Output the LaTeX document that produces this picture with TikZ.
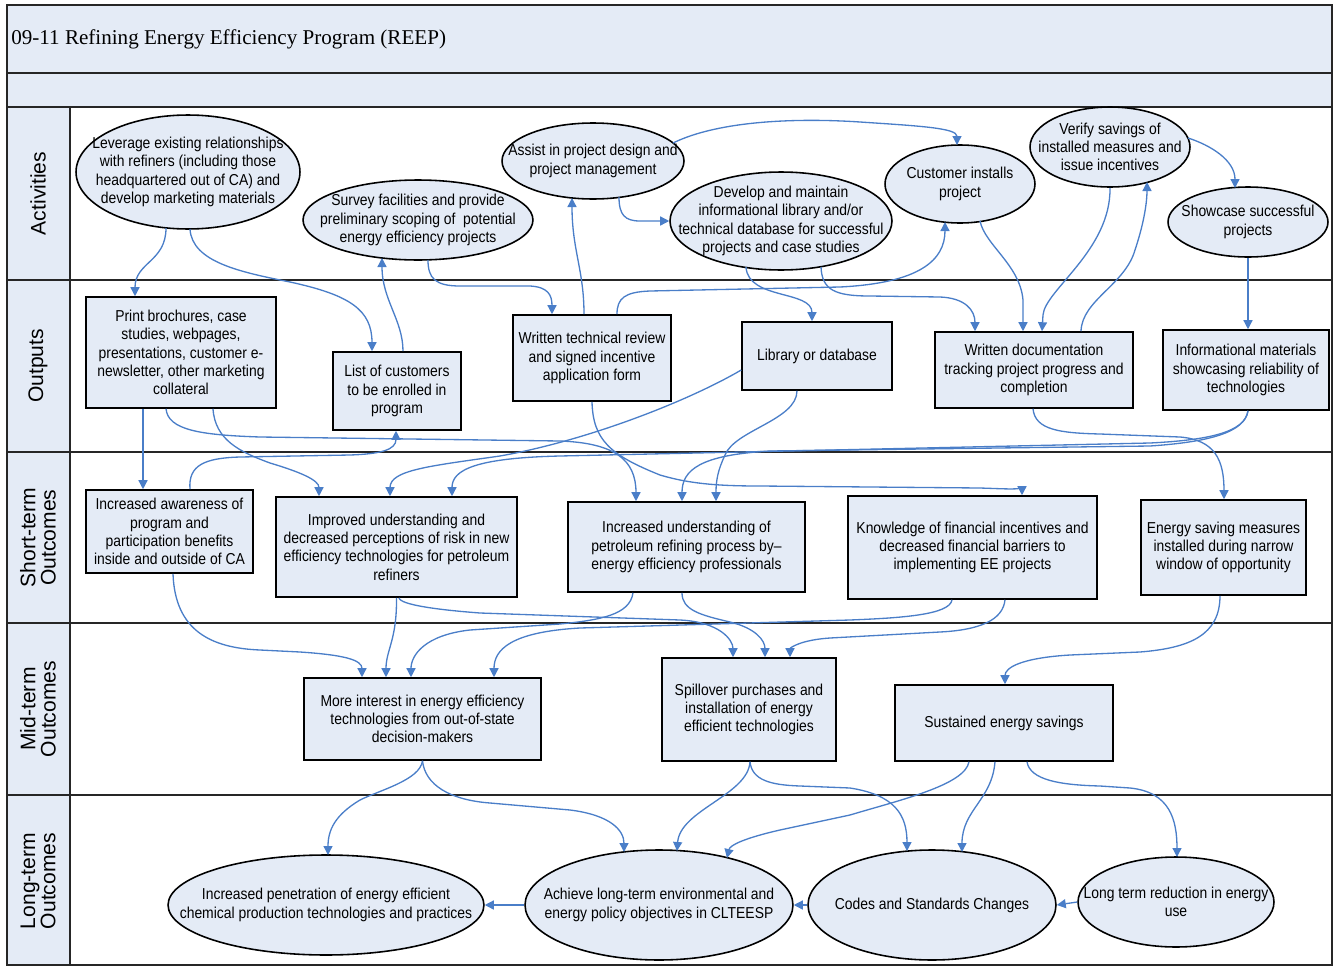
\documentclass[tikz,border=0pt]{standalone}
\usepackage{fontspec}
\setmainfont{Liberation Sans}[FakeStretch=0.88]
\newfontfamily\lanefont{Liberation Sans}
\newfontfamily\titlefont{Liberation Serif}
\usetikzlibrary{shapes.geometric,arrows.meta,calc}

\definecolor{paleblue}{HTML}{E4EBF6}
\definecolor{linkblue}{HTML}{4A7EC8}
\newcommand\nodefs{\fontsize{9}{10.4}\selectfont}
\newcommand\lanefs{\lanefont\fontsize{12}{11.5}\selectfont}

\tikzset{
  box/.style={rectangle, draw=black, line width=0.9pt, fill=paleblue, align=center, inner sep=0pt, font=\nodefs},
  oval/.style={ellipse, draw=black, line width=0.9pt, fill=paleblue, inner sep=0pt},
  ovaltext/.style={align=center, inner sep=0pt, font=\nodefs},
  lanelabel/.style={rotate=90, align=center, inner sep=0pt, font=\lanefs},
  link/.style={draw=linkblue, line width=0.75pt, -{Triangle[length=1.8mm,width=1.8mm]}},
  rule/.style={draw=black!85, line width=1pt},
}

\begin{document}
\begin{tikzpicture}[x=0.02cm, y=-0.02cm]
\useasboundingbox (0,0) rectangle (1333,967);

% table frame, title rows and lane headers
\fill[paleblue] (7,5) rectangle (1332,107);
\fill[paleblue] (7,107) rectangle (70,965);
\draw[rule] (7,5) rectangle (1332,965);
\foreach \yy in {73,107,280,452,623,795} \draw[rule] (7,\yy) -- (1332,\yy);
\draw[rule] (70,107) -- (70,965);
\node[anchor=west, inner sep=0pt, font=\titlefont\fontsize{12}{14}\selectfont] (title) at (11,39) {09-11 Refining Energy Efficiency Program (REEP)};

\node[lanelabel] (laneA) at (38,193.5) {Activities};
\node[lanelabel] (laneO) at (38,366) {Outputs};
\node[lanelabel] (laneS) at (38,537.5) {Short-term\\Outcomes};
\node[lanelabel] (laneM) at (38,709) {Mid-term\\Outcomes};
\node[lanelabel] (laneL) at (38,881) {Long-term\\Outcomes};

% activities
\node[oval, minimum width=4.48cm, minimum height=2.28cm] (A1) at (188,172) {};
\node[ovaltext] (A1t) at (A1.center) {Leverage existing relationships\\with refiners (including those\\headquartered out of CA) and\\develop marketing materials};
\node[oval, minimum width=4.60cm, minimum height=1.60cm] (A2) at (418,220) {};
\node[ovaltext] (A2t) at (A2.center) {Survey facilities and provide\\preliminary scoping of \ potential\\energy efficiency projects};
\node[oval, minimum width=3.64cm, minimum height=1.52cm] (A3) at (593,161) {};
\node[ovaltext] (A3t) at (A3.center) {Assist in project design and\\project management};
\node[oval, minimum width=4.44cm, minimum height=1.96cm] (A4) at (781,221) {};
\node[ovaltext] (A4t) at (A4.center) {Develop and maintain\\informational library and/or\\technical database for successful\\projects and case studies};
\node[oval, minimum width=3.00cm, minimum height=1.56cm] (A5) at (960,184) {};
\node[ovaltext] (A5t) at (A5.center) {Customer installs\\project};
\node[oval, minimum width=3.20cm, minimum height=1.60cm] (A6) at (1110,147) {};
\node[ovaltext] (A6t) at (A6.center) {Verify savings of\\installed measures and\\issue incentives};
\node[oval, minimum width=3.20cm, minimum height=1.40cm] (A7) at (1248,222) {};
\node[ovaltext] (A7t) at (A7.center) {Showcase successful\\projects};

% outputs
\node[box, minimum width=3.80cm, minimum height=2.22cm] (O1) at (181,352.5) {Print brochures, case\\studies, webpages,\\presentations, customer e-\\newsletter, other marketing\\collateral};
\node[box, minimum width=2.56cm, minimum height=1.56cm] (O2) at (397,391) {List of customers\\to be enrolled in\\program};
\node[box, minimum width=3.16cm, minimum height=1.72cm] (O3) at (592,358) {Written technical review\\and signed incentive\\application form};
\node[box, minimum width=3.00cm, minimum height=1.36cm] (O4) at (817,356) {Library or database};
\node[box, minimum width=3.96cm, minimum height=1.52cm] (O5) at (1034,370) {Written documentation\\tracking project progress and\\completion};
\node[box, minimum width=3.32cm, minimum height=1.60cm] (O6) at (1246,370) {Informational materials\\showcasing reliability of\\technologies};

% short-term outcomes
\node[box, minimum width=3.34cm, minimum height=1.66cm] (S1) at (169.5,531.5) {Increased awareness of\\program and\\participation benefits\\inside and outside of CA};
\node[box, minimum width=4.82cm, minimum height=2.00cm] (S2) at (396.5,547) {Improved understanding and\\decreased perceptions of risk in new\\efficiency technologies for petroleum\\refiners};
\node[box, minimum width=4.74cm, minimum height=1.80cm] (S3) at (686.5,547) {Increased understanding of\\petroleum refining process by--\\energy efficiency professionals};
\node[box, minimum width=4.98cm, minimum height=2.06cm] (S4) at (972.5,547.5) {Knowledge of financial incentives and\\decreased financial barriers to\\implementing EE projects};
\node[box, minimum width=3.30cm, minimum height=1.90cm] (S5) at (1223.5,547.5) {Energy saving measures\\installed during narrow\\window of opportunity};

% mid-term outcomes
\node[box, minimum width=4.74cm, minimum height=1.64cm] (M1) at (422.5,719) {More interest in energy efficiency\\technologies from out-of-state\\decision-makers};
\node[box, minimum width=3.48cm, minimum height=2.06cm] (M2) at (749,709.5) {Spillover purchases and\\installation of energy\\efficient technologies};
\node[box, minimum width=4.36cm, minimum height=1.52cm] (M3) at (1004,723) {Sustained energy savings};

% long-term outcomes
\node[oval, minimum width=6.32cm, minimum height=2.00cm] (L1) at (326,905) {};
\node[ovaltext] (L1t) at (L1.center) {Increased penetration of energy efficient\\chemical production technologies and practices};
\node[oval, minimum width=5.36cm, minimum height=2.20cm] (L2) at (659,905) {};
\node[ovaltext] (L2t) at (L2.center) {Achieve long-term environmental and\\energy policy objectives in CLTEESP};
\node[oval, minimum width=4.96cm, minimum height=2.20cm] (L3) at (932,905) {};
\node[ovaltext] (L3t) at (L3.center) {Codes and Standards Changes};
\node[oval, minimum width=3.92cm, minimum height=1.80cm] (L4) at (1176,902) {};
\node[ovaltext] (L4t) at (L4.center) {Long term reduction in energy\\use};

% activities <-> outputs
\draw[link] ($(A1.center)+(-22,56)$) .. controls (166,262) and (135,262) .. ($(O1.north)+(-46,0)$);
\draw[link] ($(A1.center)+(2,57)$) .. controls (192,262) and (240,272) .. (290,282) .. controls (350,295) and (372,310) .. ($(O2.north)+(-25,0)$);
\draw[link] ($(O2.north)+(6,0)$) .. controls (403,320) and (382,300) .. ($(A2.center)+(-36,38)$);
\draw[link] ($(A2.center)+(10,40)$) .. controls (428,278) and (435,286) .. (460,286) -- (530,286) .. controls (548,287) and (552,295) .. ($(O3.north)+(-40,0)$);
\draw[link] ($(O3.north)+(-8,0)$) .. controls (584,270) and (572,250) .. ($(A3.center)+(-21,37)$);
\draw[link] ($(A3.center)+(26,36)$) .. controls (619,215) and (625,221) .. (640,221) -- (A4.west);
\draw[link] ($(A3.center)+(80,-18)$) .. controls (720,120) and (800,118) .. (860,122) .. controls (920,126) and (957,128) .. ($(A5.center)+(-3,-39)$);
\draw[link] ($(O3.north)+(25,0)$) .. controls (617,298) and (625,292) .. (650,291) -- (840,287) .. controls (920,283) and (945,260) .. ($(A5.center)+(-15,38)$);
\draw[link] ($(A4.center)+(-35,46)$) .. controls (748,300) and (812,290) .. ($(O4.north)+(-5,0)$);
\draw[link] ($(A4.center)+(40,46)$) .. controls (822,290) and (835,296) .. (870,296) -- (940,297) .. controls (965,298) and (975,310) .. ($(O5.north)+(-59,0)$);
\draw[link] ($(A5.center)+(20,37)$) .. controls (985,245) and (1020,265) .. (1023,300) -- ($(O5.north)+(-11,0)$);
\draw[link] (A6.south) .. controls (1111,250) and (1045,290) .. (1043,315) -- ($(O5.north)+(8,0)$);
\draw[link] ($(O5.north)+(47,0)$) .. controls (1082,300) and (1125,285) .. (1135,250) .. controls (1145,220) and (1147,200) .. ($(A6.center)+(37,35)$);
\draw[link] ($(A6.center)+(78,-9)$) .. controls (1210,145) and (1235,160) .. ($(A7.center)+(-13,-34)$);
\draw[link] (A7.south) -- (A7.south |- O6.north);

% outputs -> short-term outcomes
\draw[link] ($(O1.south)+(-38,0)$) -- ($(S1.north)+(-26.5,0)$);
\draw[link] ($(O1.south)+(-15,0)$) .. controls (168,430) and (200,435) .. (260,437) -- (560,441) .. controls (615,443) and (636,460) .. ($(S3.north)+(-50.5,0)$);
\draw[link] ($(O1.south)+(32,0)$) .. controls (215,440) and (240,452) .. (270,463) .. controls (300,472) and (319,480) .. ($(S2.north)+(-77.5,0)$);
\draw[link] ($(S1.north)+(20.5,0)$) .. controls (188,465) and (205,458) .. (240,457) -- (350,455) .. controls (380,454) and (396,450) .. ($(O2.south)+(-1,0)$);
\draw[link] (O3.south) .. controls (593,440) and (610,455) .. (660,475) .. controls (690,484) and (720,486) .. (760,486) -- (980,488) .. controls (1010,489) and (1022,490) .. ($(S4.north)+(49.5,0)$);
\draw[link] ($(O4.west)+(0,14)$) .. controls (690,400) and (590,440) .. (500,456) .. controls (430,466) and (390,470) .. ($(S2.north)+(-6.5,0)$);
\draw[link] ($(O6.south)+(2,0)$) .. controls (1245,432) and (1210,440) .. (1150,443) -- (560,456) .. controls (475,458) and (452,470) .. ($(S2.north)+(55.5,0)$);
\draw[link] ($(O6.south)+(2,0)$) .. controls (1245,432) and (1210,442) .. (1150,446) -- (770,451) .. controls (700,455) and (682,470) .. ($(S3.north)+(-4.5,0)$);
\draw[link] ($(O4.south)+(-20,0)$) .. controls (797,420) and (735,430) .. (725,455) .. controls (718,470) and (716,480) .. ($(S3.north)+(29.5,0)$);
\draw[link] ($(O5.south)+(-1,0)$) .. controls (1035,430) and (1060,433) .. (1100,434) -- (1180,437) .. controls (1215,440) and (1224,460) .. ($(S5.north)+(0.5,0)$);

% short-term -> mid-term outcomes
\draw[link] ($(S1.south)+(3.5,0)$) .. controls (175,630) and (210,648) .. (260,650) -- (300,652) .. controls (345,655) and (362,660) .. ($(M1.north)+(-60.5,0)$);
\draw[link] (S2.south) .. controls (397,640) and (386,650) .. ($(M1.north)+(-36.5,0)$);
\draw[link] ($(S3.south)+(-53.5,0)$) .. controls (630,615) and (600,620) .. (560,624) -- (470,630) .. controls (425,635) and (411,655) .. ($(M1.north)+(-11.5,0)$);
\draw[link] ($(S4.south)+(-20.5,0)$) .. controls (950,615) and (900,618) .. (850,620) -- (580,628) .. controls (510,632) and (494,650) .. ($(M1.north)+(71.5,0)$);
\draw[link] ($(S4.south)+(32.5,0)$) .. controls (1003,620) and (980,630) .. (940,632) -- (830,638) .. controls (800,640) and (790,648) .. ($(M2.north)+(41,0)$);
\draw[link] ($(S2.south)+(2.5,0)$) .. controls (400,605) and (440,610) .. (480,613) -- (680,620) .. controls (720,622) and (733,640) .. ($(M2.north)+(-16,0)$);
\draw[link] ($(S3.south)+(-4.5,0)$) .. controls (682,610) and (700,615) .. (730,622) .. controls (755,628) and (765,640) .. ($(M2.north)+(16,0)$);
\draw[link] ($(S5.south)+(-3.5,0)$) .. controls (1220,635) and (1190,648) .. (1140,652) -- (1070,655) .. controls (1020,658) and (1005,668) .. ($(M3.north)+(1,0)$);

% mid-term -> long-term outcomes
\draw[link] (M1.south) .. controls (420,780) and (380,790) .. (360,800) .. controls (335,815) and (328,830) .. ($(L1.center)+(2,-50)$);
\draw[link] (M1.south) .. controls (425,785) and (450,800) .. (490,803) -- (570,810) .. controls (610,815) and (624,830) .. ($(L2.center)+(-35,-53)$);
\draw[link] ($(M2.south)+(1,0)$) .. controls (748,795) and (680,810) .. ($(L2.center)+(18,-54)$);
\draw[link] ($(M3.south)+(-35,0)$) .. controls (965,785) and (900,800) .. (850,815) -- (780,830) .. controls (745,838) and (730,845) .. ($(L2.center)+(68,-47)$);
\draw[link] ($(M2.south)+(1,0)$) .. controls (752,780) and (770,785) .. (800,786) -- (850,788) .. controls (895,795) and (907,815) .. ($(L3.center)+(-25,-54)$);
\draw[link] ($(M3.south)+(-9,0)$) .. controls (992,800) and (962,810) .. ($(L3.center)+(30,-53)$);
\draw[link] ($(M3.south)+(23,0)$) .. controls (1030,780) and (1060,785) .. (1100,786) -- (1130,788) .. controls (1170,792) and (1177,820) .. ($(L4.center)+(1,-45)$);
\draw[link] (L4.west) -- (L3.east);
\draw[link] (L3.west) -- (L2.east);
\draw[link] (L2.west) -- (L1.east);
\end{tikzpicture}
\end{document}
